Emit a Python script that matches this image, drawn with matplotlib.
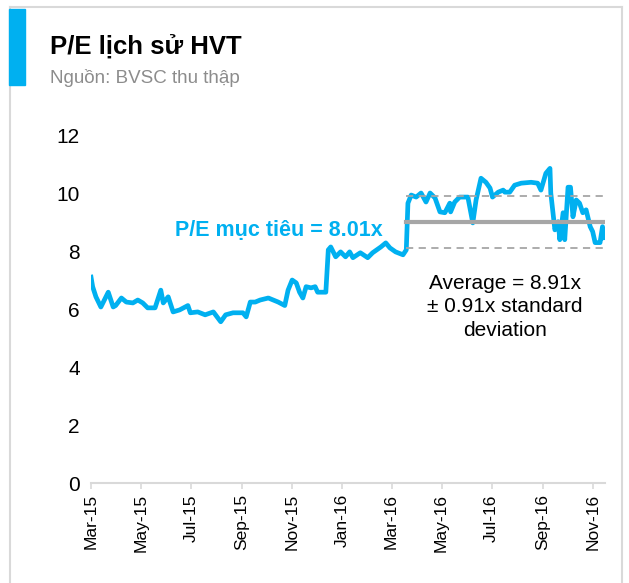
import matplotlib.pyplot as plt
import matplotlib.dates as mdates
import pandas as pd
from matplotlib.patches import Rectangle
from matplotlib.lines import Line2D

plt.rcParams['font.family'] = ['Liberation Sans', 'DejaVu Sans']

# P/E history
dates = ['2015-03-01', '2015-03-03', '2015-03-07', '2015-03-13', '2015-03-22', '2015-03-28',
         '2015-03-31', '2015-04-07', '2015-04-13', '2015-04-21', '2015-04-27', '2015-05-03',
         '2015-05-09', '2015-05-18', '2015-05-25', '2015-05-28', '2015-06-03', '2015-06-09',
         '2015-06-17', '2015-06-27', '2015-06-30', '2015-07-09', '2015-07-18', '2015-07-28',
         '2015-08-06', '2015-08-12', '2015-08-21', '2015-09-02', '2015-09-06', '2015-09-11',
         '2015-09-17', '2015-09-23', '2015-10-03', '2015-10-09', '2015-10-15', '2015-10-23',
         '2015-10-27', '2015-11-01', '2015-11-06', '2015-11-10', '2015-11-14', '2015-11-18',
         '2015-11-24', '2015-11-29', '2015-12-02', '2015-12-08', '2015-12-12', '2015-12-15',
         '2015-12-18', '2015-12-24', '2015-12-30', '2016-01-05', '2016-01-10', '2016-01-14',
         '2016-01-23', '2016-02-01', '2016-02-07', '2016-02-17', '2016-02-23', '2016-02-28',
         '2016-03-06', '2016-03-15', '2016-03-19', '2016-03-21', '2016-03-25', '2016-03-31',
         '2016-04-06', '2016-04-12', '2016-04-17', '2016-04-23', '2016-04-29', '2016-05-05',
         '2016-05-11', '2016-05-12', '2016-05-17', '2016-05-23', '2016-06-02', '2016-06-08',
         '2016-06-12', '2016-06-18', '2016-06-24', '2016-06-29', '2016-07-02', '2016-07-09',
         '2016-07-15', '2016-07-17', '2016-07-23', '2016-07-29', '2016-08-06', '2016-08-18',
         '2016-08-26', '2016-08-30', '2016-09-05', '2016-09-10', '2016-09-11', '2016-09-16',
         '2016-09-20', '2016-09-22', '2016-09-26', '2016-09-28', '2016-10-02', '2016-10-05',
         '2016-10-08', '2016-10-12', '2016-10-16', '2016-10-20', '2016-10-24', '2016-10-29',
         '2016-11-01', '2016-11-04', '2016-11-10', '2016-11-13', '2016-11-15']
pe = [7.10, 6.77, 6.42, 6.07, 6.58, 6.07,
      6.12, 6.38, 6.24, 6.21, 6.31, 6.21,
      6.04, 6.04, 6.65, 6.21, 6.42, 5.90,
      5.97, 6.12, 5.87, 5.90, 5.80, 5.90,
      5.56, 5.80, 5.87, 5.87, 5.73, 6.24,
      6.24, 6.31, 6.38, 6.31, 6.24, 6.12,
      6.65, 7.00, 6.90, 6.58, 6.38, 6.77,
      6.73, 6.77, 6.58, 6.58, 6.58, 8.04,
      8.14, 7.80, 7.97, 7.80, 7.97, 7.77,
      7.94, 7.77, 7.94, 8.14, 8.28, 8.11,
      7.97, 7.87, 8.04, 9.65, 9.93, 9.86,
      10.00, 9.69, 10.00, 9.83, 9.35, 9.32,
      9.65, 9.35, 9.69, 9.86, 9.86, 8.97,
      9.76, 10.51, 10.37, 10.17, 9.86, 10.03,
      10.10, 10.03, 10.03, 10.27, 10.34, 10.37,
      10.34, 10.10, 10.68, 10.85, 10.00, 8.73,
      9.01, 8.39, 9.32, 8.39, 10.20, 10.20,
      9.18, 9.76, 9.65, 9.32, 9.42, 8.84,
      8.67, 8.29, 8.29, 8.84, 8.46]

avg_start, avg_end = '2016-03-19', '2016-11-15'
avg_level = 9.0
std_band = 0.91

tick_dates = ['2015-03-01', '2015-05-01', '2015-07-01', '2015-09-01', '2015-11-01', '2016-01-01',
              '2016-03-01', '2016-05-01', '2016-07-01', '2016-09-01', '2016-11-01']

blue = '#00b0f0'
grey = '#a6a6a6'

fig = plt.figure(figsize=(6.29, 5.83), dpi=100)
ax = fig.add_axes([0.1447, 0.1715, 0.8171, 0.5969])

x = pd.to_datetime(dates)
ax.plot(x, pe, color=blue, lw=3.4, solid_joinstyle='round')

xa = pd.to_datetime([avg_start, avg_end])
ax.plot(xa, [avg_level, avg_level], color=grey, lw=3)
ax.plot(xa, [avg_level + std_band] * 2, color=grey, lw=1.3, ls=(0, (4, 3)))
ax.plot(xa, [avg_level - std_band] * 2, color=grey, lw=1.3, ls=(0, (4, 3)))

ax.set_ylim(0, 12)
ax.set_yticks([0, 2, 4, 6, 8, 10, 12])
ax.set_xlim(pd.Timestamp('2015-03-01'), pd.Timestamp('2016-11-16'))
ax.set_xticks(pd.to_datetime(tick_dates))
ax.xaxis.set_major_formatter(mdates.DateFormatter('%b-%y'))

for s in ['top', 'right', 'left']:
    ax.spines[s].set_visible(False)
ax.spines['bottom'].set_color('#d9d9d9')
ax.spines['bottom'].set_linewidth(1.5)
ax.tick_params(axis='y', length=0, pad=8, labelsize=15)
ax.tick_params(axis='x', length=4, width=1.2, color='#d9d9d9', pad=4,
               labelsize=12.5, labelrotation=90)

ax.text(0.163, 0.727, 'P/E mục tiêu = 8.01x', transform=ax.transAxes, color=blue,
        fontsize=15.5, fontweight='bold', ha='left', va='center')
ax.text(0.805, 0.506, 'Average = 8.91x\n± 0.91x standard\ndeviation', transform=ax.transAxes,
        fontsize=15, ha='center', va='center', linespacing=1.32)

# header and frame
fig.text(0.0795, 0.919, 'P/E lịch sử HVT', fontsize=18.5, fontweight='bold', va='center')
fig.text(0.0795, 0.866, 'Nguồn: BVSC thu thập', fontsize=13.5, color='#8c8c8c', va='center')
fig.patches.append(Rectangle((0.0143, 0.854), 0.0254, 0.130, transform=fig.transFigure,
                             color=blue, zorder=3))
frame = dict(color='#d9d9d9', lw=1.5, transform=fig.transFigure)
fig.lines.append(Line2D([0.0159, 0.989], [0.988, 0.988], **frame))
fig.lines.append(Line2D([0.0159, 0.0159], [0.0, 0.988], **frame))
fig.lines.append(Line2D([0.989, 0.989], [0.0, 0.988], **frame))

fig.savefig('out.png', dpi=100)
